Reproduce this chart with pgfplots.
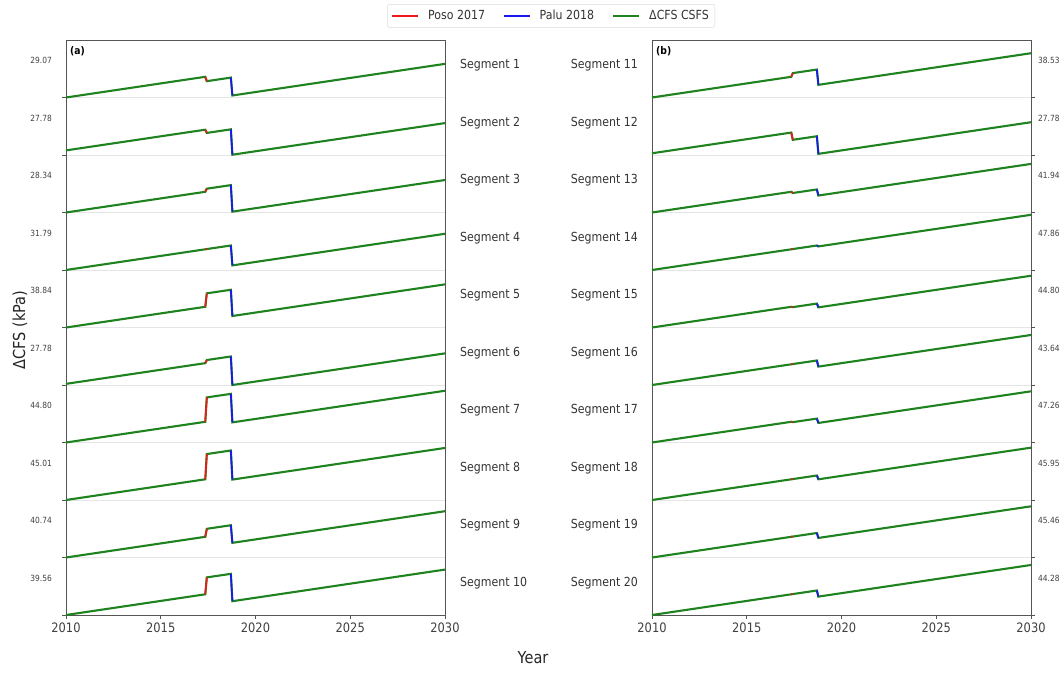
\documentclass[border=0pt]{standalone}
\usepackage{fontspec}
\setmainfont{DejaVu Sans}[FakeStretch=0.88]
\usepackage{pgfplots}
\pgfplotsset{compat=1.18}
\definecolor{cgreen}{HTML}{1E821E}
\definecolor{cred}{HTML}{F01818}
\definecolor{cblue}{HTML}{1818F0}
\definecolor{spine}{HTML}{555555}

% one segment: start, before Poso, after Poso, before Palu, after Palu, end (2030)
\newcommand\seg[6]{%
 \addplot[cgreen, line width=2.1pt, forget plot] coordinates {(2010,#1) (2017.35,#2) (2017.43,#3) (2018.7,#4) (2018.78,#5) (2030,#6)};
 \addplot[cred, line width=1.7pt, forget plot] coordinates {(2017.35,#2) (2017.43,#3)};
 \addplot[cblue, line width=1.7pt, forget plot] coordinates {(2018.7,#4) (2018.78,#5)};
}

\pgfplotsset{segax/.style={
  scale only axis, width=379pt, height=575pt,
  xmin=2010, xmax=2030, ymin=0, ymax=10,
  xtick={2010,2015,2020,2025,2030},
  xtick pos=bottom, tick align=outside,
  major tick length=4pt,
  ytick={0,1,2,3,4,5,6,7,8,9}, yticklabels={},
  ymajorgrids, major grid style={black!10, line width=0.9pt},
  axis line style={spine, line width=0.9pt},
  tick style={spine, line width=0.8pt},
  xticklabel style={font=\fontsize{13}{14}\selectfont, text=black!75},
  /pgf/number format/assume math mode=true,
  /pgf/number format/1000 sep={},
  clip=false,
}}

\begin{document}
\begin{tikzpicture}
\useasboundingbox (0,0) rectangle (1064pt,672pt);

\begin{axis}[segax, at={(66pt,57pt)}, anchor=south west, ytick pos=left,
  legend columns=3,
  legend style={at={(1.28,1.042)}, anchor=center, draw=black!15, rounded corners=2pt,
    font=\fontsize{12.5}{14}\selectfont, text=black!80, inner sep=4pt,
    /tikz/every odd column/.append style={column sep=7pt},
    /tikz/every even column/.append style={column sep=16pt}},
  legend image code/.code={\draw[#1] (0pt,0pt) -- (26pt,0pt);}]
\addlegendimage{cred, line width=1.7pt}\addlegendentry{Poso 2017}
\addlegendimage{cblue, line width=1.7pt}\addlegendentry{Palu 2018}
\addlegendimage{cgreen, line width=2.1pt}\addlegendentry{ΔCFS CSFS}

\seg{9}{9.360}{9.284}{9.346}{9.035}{9.585}
\seg{8.080}{8.440}{8.384}{8.446}{8.005}{8.555}
\seg{7}{7.360}{7.414}{7.476}{7.015}{7.565}
\seg{6}{6.360}{6.364}{6.426}{6.080}{6.630}
\seg{5}{5.360}{5.594}{5.656}{5.200}{5.750}
\seg{4.020}{4.380}{4.434}{4.496}{4.000}{4.550}
\seg{3}{3.360}{3.784}{3.846}{3.350}{3.900}
\seg{2}{2.360}{2.799}{2.861}{2.355}{2.905}
\seg{1}{1.360}{1.499}{1.561}{1.255}{1.805}
\seg{0}{0.360}{0.654}{0.716}{0.240}{0.790}

\begin{scope}[every node/.style={anchor=east, inner sep=0pt, xshift=-14pt, font=\fontsize{8.5}{9}\selectfont, text=black!75}]
\node at (axis cs:2010,9.64) {29.07};
\node at (axis cs:2010,8.64) {27.78};
\node at (axis cs:2010,7.64) {28.34};
\node at (axis cs:2010,6.64) {31.79};
\node at (axis cs:2010,5.64) {38.84};
\node at (axis cs:2010,4.64) {27.78};
\node at (axis cs:2010,3.64) {44.80};
\node at (axis cs:2010,2.64) {45.01};
\node at (axis cs:2010,1.64) {40.74};
\node at (axis cs:2010,0.64) {39.56};
\end{scope}
\begin{scope}[every node/.style={anchor=west, inner sep=0pt, xshift=15pt, font=\fontsize{12.5}{14}\selectfont, text=black!80}]
\node at (axis cs:2030,9.56) {Segment 1};
\node at (axis cs:2030,8.56) {Segment 2};
\node at (axis cs:2030,7.56) {Segment 3};
\node at (axis cs:2030,6.56) {Segment 4};
\node at (axis cs:2030,5.56) {Segment 5};
\node at (axis cs:2030,4.56) {Segment 6};
\node at (axis cs:2030,3.56) {Segment 7};
\node at (axis cs:2030,2.56) {Segment 8};
\node at (axis cs:2030,1.56) {Segment 9};
\node at (axis cs:2030,0.56) {Segment 10};
\end{scope}
\node[anchor=north west, inner sep=0pt, xshift=4pt, yshift=-6pt, font=\bfseries\fontsize{10.5}{12}\selectfont] at (rel axis cs:0,1) {(a)};
\end{axis}

\begin{axis}[segax, at={(652pt,57pt)}, anchor=south west, ytick pos=right]
\seg{9}{9.360}{9.424}{9.486}{9.220}{9.770}
\seg{8.030}{8.390}{8.264}{8.326}{8.020}{8.570}
\seg{7}{7.360}{7.339}{7.401}{7.295}{7.845}
\seg{6}{6.360}{6.364}{6.426}{6.410}{6.960}
\seg{5}{5.360}{5.354}{5.416}{5.350}{5.900}
\seg{4}{4.360}{4.364}{4.426}{4.320}{4.870}
\seg{3}{3.360}{3.354}{3.416}{3.340}{3.890}
\seg{2}{2.360}{2.364}{2.426}{2.360}{2.910}
\seg{1}{1.360}{1.364}{1.426}{1.340}{1.890}
\seg{0}{0.360}{0.364}{0.426}{0.320}{0.870}

\begin{scope}[every node/.style={anchor=west, inner sep=0pt, xshift=7pt, font=\fontsize{8.5}{9}\selectfont, text=black!75}]
\node at (axis cs:2030,9.64) {38.53};
\node at (axis cs:2030,8.64) {27.78};
\node at (axis cs:2030,7.64) {41.94};
\node at (axis cs:2030,6.64) {47.86};
\node at (axis cs:2030,5.64) {44.80};
\node at (axis cs:2030,4.64) {43.64};
\node at (axis cs:2030,3.64) {47.26};
\node at (axis cs:2030,2.64) {45.95};
\node at (axis cs:2030,1.64) {45.46};
\node at (axis cs:2030,0.64) {44.28};
\end{scope}
\begin{scope}[every node/.style={anchor=east, inner sep=0pt, xshift=-14pt, font=\fontsize{12.5}{14}\selectfont, text=black!80}]
\node at (axis cs:2010,9.56) {Segment 11};
\node at (axis cs:2010,8.56) {Segment 12};
\node at (axis cs:2010,7.56) {Segment 13};
\node at (axis cs:2010,6.56) {Segment 14};
\node at (axis cs:2010,5.56) {Segment 15};
\node at (axis cs:2010,4.56) {Segment 16};
\node at (axis cs:2010,3.56) {Segment 17};
\node at (axis cs:2010,2.56) {Segment 18};
\node at (axis cs:2010,1.56) {Segment 19};
\node at (axis cs:2010,0.56) {Segment 20};
\end{scope}
\node[anchor=north west, inner sep=0pt, xshift=4pt, yshift=-6pt, font=\bfseries\fontsize{10.5}{12}\selectfont] at (rel axis cs:0,1) {(b)};
\end{axis}

\node[rotate=90, font=\fontsize{16.5}{18}\selectfont, text=black!85] at (20pt,342pt) {ΔCFS (kPa)};
\node[font=\fontsize{16.5}{18}\selectfont, text=black!85] at (533pt,14pt) {Year};
\end{tikzpicture}
\end{document}
